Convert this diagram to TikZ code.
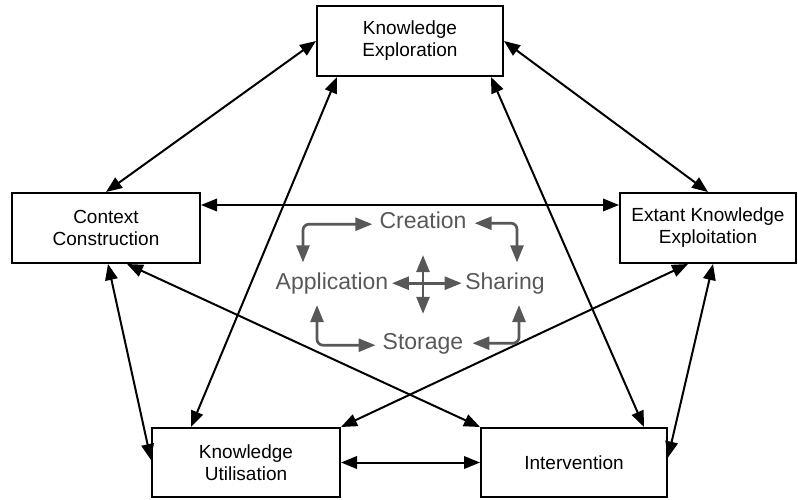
\documentclass[tikz,border=0pt]{standalone}
\usepackage{fontspec}
\setmainfont{Liberation Sans}
\usetikzlibrary{arrows.meta}
\definecolor{cyclegray}{HTML}{585858}

\tikzset{
  stagebox/.style={draw, line width=2pt, align=center, inner sep=2pt,
    font=\fontsize{19}{22}\selectfont},
  linkarr/.style={line width=2pt,
    {Triangle[length=16pt,width=12.5pt]}-{Triangle[length=16pt,width=12.5pt]}},
  cyclelabel/.style={text=cyclegray, inner sep=0pt, text height=16.5pt,
    text depth=4.8pt, font=\fontsize{23}{26}\selectfont},
  cyclearr/.style={draw=cyclegray, line width=2.7pt, rounded corners=6pt,
    {Triangle[length=17pt,width=13pt]}-{Triangle[length=17pt,width=13pt]}}
}

\begin{document}
\begin{tikzpicture}[x=1pt,y=-1pt]
\useasboundingbox (0,0) rectangle (798,499);
% outer stages
\node[stagebox, minimum width=186pt, minimum height=70pt] (ke) at (410,41) {Knowledge\\Exploration};
\node[stagebox, minimum width=188pt, minimum height=70pt] (cc) at (106,228) {Context\\Construction};
\node[stagebox, minimum width=176pt, minimum height=70pt] (eke) at (708,228) {Extant Knowledge\\Exploitation};
\node[stagebox, minimum width=188pt, minimum height=69pt] (ku) at (246,462.5) {Knowledge\\Utilisation};
\node[stagebox, minimum width=186pt, minimum height=69pt] (iv) at (574,462.5) {Intervention};
% links between stages
\draw[linkarr] (cc.north) -- (ke.west);
\draw[linkarr] (ke.east) -- (eke.north);
\draw[linkarr] ([xshift=21pt]ke.south west) -- ([xshift=40pt]ku.north west);
\draw[linkarr] ([xshift=-13pt]ke.south east) -- ([xshift=-24pt]iv.north east);
\draw[linkarr] ([yshift=23pt]cc.east) -- ([yshift=23pt]eke.west);
\draw[linkarr] ([xshift=2pt]cc.south) -- ([yshift=2.5pt]ku.west);
\draw[linkarr] ([xshift=21pt]cc.south) -- (iv.north west);
\draw[linkarr] ([xshift=-20pt]eke.south) -- (ku.north east);
\draw[linkarr] ([xshift=5pt]eke.south) -- ([yshift=5pt]iv.east);
\draw[linkarr] (ku) -- (iv);
% knowledge cycle in the middle
\node[cyclelabel] (cre) at (423,222.2) {Creation};
\node[cyclelabel] (app) at (332,283.2) {Application};
\node[cyclelabel] (sha) at (505,283.2) {Sharing};
\node[cyclelabel] (sto) at (423,343.2) {Storage};
\draw[cyclearr] ([xshift=-29pt,yshift=10pt]app.north) |- ([xshift=-7pt,yshift=-2pt]cre.west);
\draw[cyclearr] ([xshift=8pt,yshift=-1pt]cre.east) -| ([xshift=12pt,yshift=10pt]sha.north);
\draw[cyclearr] ([xshift=-15pt,yshift=-11pt]app.south) |- ([xshift=-7pt,yshift=-2pt]sto.west);
\draw[cyclearr] ([xshift=9pt]sto.east) -| ([xshift=14pt,yshift=-11pt]sha.south);
\draw[cyclearr, shorten <=22pt, shorten >=18.5pt] (cre) -- (sto);
\draw[cyclearr, shorten <=3.5pt, shorten >=3.5pt] (app) -- (sha);
\end{tikzpicture}
\end{document}
